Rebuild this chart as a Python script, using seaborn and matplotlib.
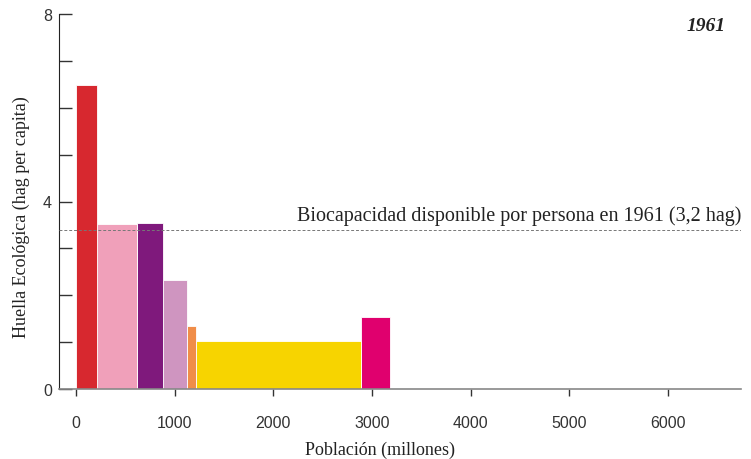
import matplotlib
matplotlib.use("Agg")
import matplotlib.pyplot as plt
import seaborn as sns
import pandas as pd
import numpy as np

# ----------------------------
# Data (1961)
# ----------------------------
regions = ["Norteamérica", "UE", "Otros Europa", "Latinoamérica",
           "Oriente Medio y Asia Central", "Asia-Pacífico", "África"]
population = [213, 408, 263, 244, 91, 1672, 290]      # millones
footprint = [6.49, 3.51, 3.55, 2.32, 1.34, 1.02, 1.53]  # hag per capita
colors = ["#D7282F", "#F0A0BA", "#7F197C", "#CF95C0",
          "#F08D48", "#F7D400", "#E0006E"]
biocap = 3.4
year = "1961"

edges = [0] + list(np.cumsum(population).astype(float))
df = pd.DataFrame({
    "region": regions,
    "mid": [(a + b) / 2 for a, b in zip(edges[:-1], edges[1:])],
    "footprint": footprint,
})

sns.set_style("ticks")
plt.rcParams["font.family"] = ["Liberation Sans", "DejaVu Sans"]
serif = ["Liberation Serif", "DejaVu Serif"]

fig = plt.figure(figsize=(7.51, 4.60), dpi=100)
ax = fig.add_axes([59 / 751, 70 / 460, 682 / 751, 375 / 460])

sns.histplot(data=df, x="mid", weights="footprint", hue="region",
             hue_order=regions, palette=colors, bins=edges,
             multiple="layer", alpha=1, linewidth=0.6, edgecolor="white",
             legend=False, ax=ax)

ax.set_xlim(-172, 6740)
ax.set_ylim(0, 8)

# biocapacity line
ax.axhline(biocap, color="#777777", lw=0.7, ls=(0, (3, 2)), zorder=5)
ax.text(6740, biocap + 0.1, "Biocapacidad disponible por persona en 1961 (3,2 hag)",
        ha="right", va="bottom", fontsize=14.5, family=serif, color="#222222")

ax.text(0.978, 0.97, year, transform=ax.transAxes, ha="right", va="center",
        fontsize=14, family=serif, weight="bold", style="italic", color="#222222")

# axes styling
ax.set_xticks([0, 1000, 2000, 3000, 4000, 5000, 6000])
ax.set_yticks([0, 4, 8])
ax.set_yticks([1, 2, 3, 5, 6, 7], minor=True)
ax.tick_params(axis="x", direction="out", length=5, width=1, pad=14,
               labelsize=11.5, colors="#333333")
ax.tick_params(axis="y", which="both", direction="in", length=9, width=1,
               pad=5, labelsize=11.5, colors="#333333")

sns.despine(ax=ax, top=True, right=True)
ax.spines["left"].set_color("#222222")
ax.spines["bottom"].set_color("#888888")
ax.spines["bottom"].set_linewidth(1.2)

ax.set_xlabel("Población (millones)", family=serif, fontsize=13,
              color="#222222")
ax.set_ylabel("Huella Ecológica (hag per capita)", family=serif, fontsize=13,
              color="#222222")
ax.xaxis.set_label_coords(0.47, -0.137)
ax.yaxis.set_label_coords(-0.043, 0.46)

fig.savefig("out.png", dpi=100)
